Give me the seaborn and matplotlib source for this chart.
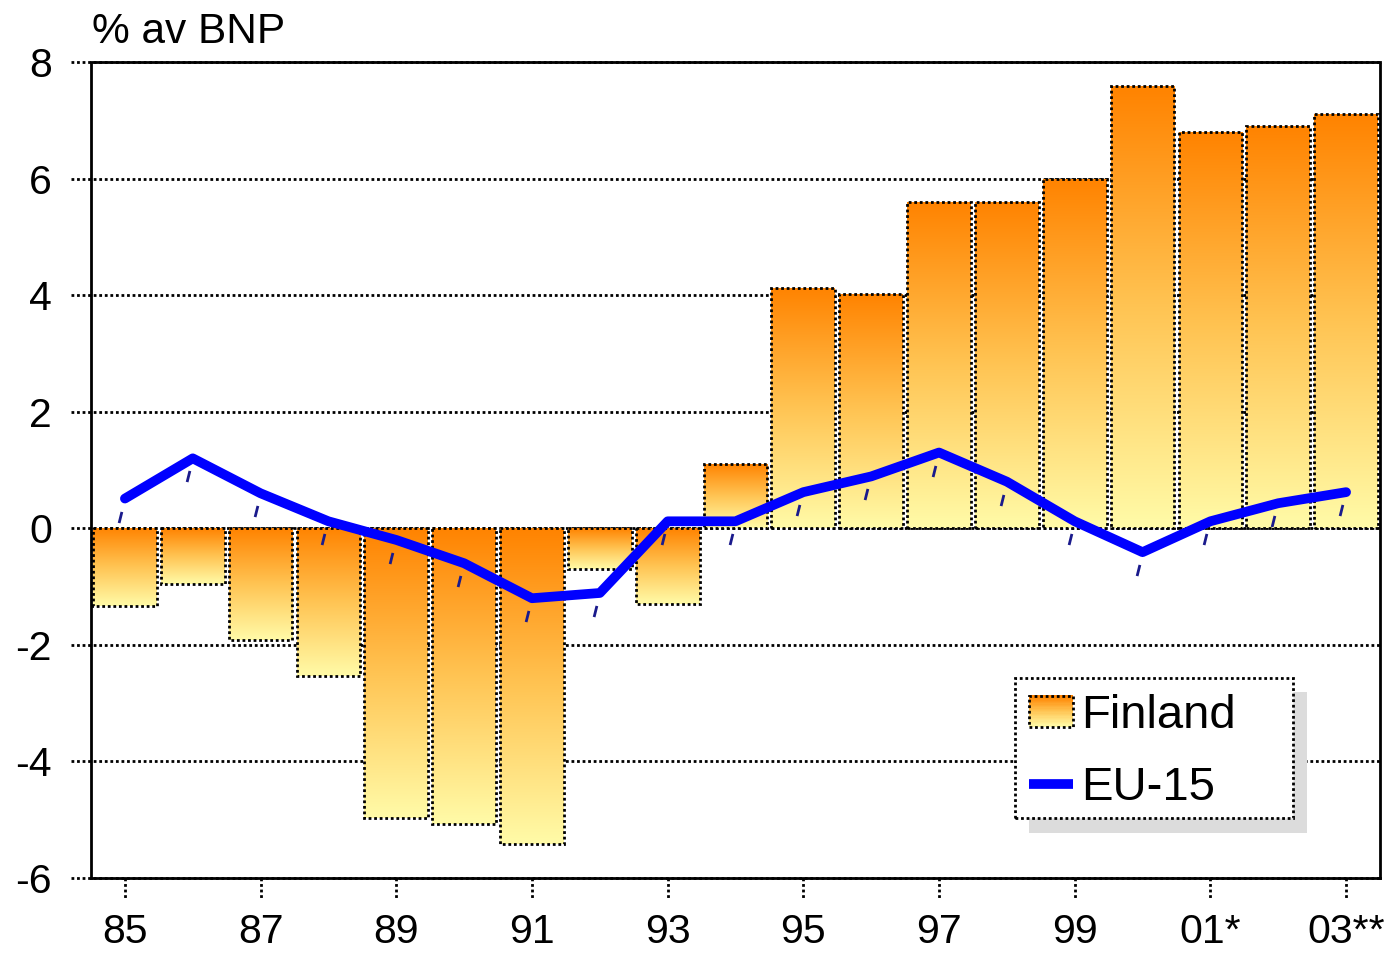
import numpy as np
import pandas as pd
import matplotlib
matplotlib.use("Agg")
import matplotlib.pyplot as plt
import seaborn as sns
from matplotlib.colors import LinearSegmentedColormap
from matplotlib.patches import Rectangle, Patch
from matplotlib.lines import Line2D
from matplotlib.path import Path
from matplotlib.transforms import ScaledTranslation
from matplotlib.legend_handler import HandlerBase

# ---------------- data ----------------
years = ['85', '86', '87', '88', '89', '90', '91', '92', '93', '94',
         '95', '96', '97', '98', '99', '00', '01', '02', '03']
finland = [-1.34, -0.96, -1.92, -2.54, -4.97, -5.08, -5.42, -0.69, -1.30, 1.10,
           4.12, 4.02, 5.60, 5.60, 6.00, 7.58, 6.80, 6.90, 7.10]
eu15 = [0.51, 1.20, 0.60, 0.12, -0.20, -0.60, -1.20, -1.11, 0.12, 0.12,
        0.62, 0.89, 1.30, 0.80, 0.12, -0.41, 0.12, 0.43, 0.62]
xtick_labels = ['85', '87', '89', '91', '93', '95', '97', '99', '01*', '03**']
y_ticks = [-6, -4, -2, 0, 2, 4, 6, 8]
series_names = ['Finland', 'EU-15']
y_title = '% av BNP'

# ---------------- style ----------------
sns.set_style('white')
plt.rcParams['font.family'] = ['Liberation Sans', 'DejaVu Sans']
plt.rcParams['text.color'] = 'black'
plt.rcParams['xtick.color'] = 'black'
plt.rcParams['ytick.color'] = 'black'
plt.rcParams['axes.labelcolor'] = 'black'

W, H = 1389, 956
fig = plt.figure(figsize=(W / 100, H / 100), dpi=100)
ax = fig.add_axes([91 / W, 1 - 878 / H, (1380 - 91) / W, (878 - 62) / H])

DOT = (0, (1, 1))
LW = 2.0
cmap = LinearSegmentedColormap.from_list('fin', ['#FF8300', '#FFC453', '#FFFBA8'])

df = pd.DataFrame({'year': years, 'Finland': finland, 'EU15': eu15})

sns.barplot(data=df, x='year', y='Finland', ax=ax, width=0.94, color='#FFB040',
            saturation=1, edgecolor='black', linewidth=LW, zorder=2)

grad = np.linspace(0, 1, 256).reshape(-1, 1)
for p in list(ax.patches):
    x0, y0 = p.get_x(), p.get_y()
    w, h = p.get_width(), p.get_height()
    ylo, yhi = min(y0, y0 + h), max(y0, y0 + h)
    im = ax.imshow(grad, cmap=cmap, extent=[x0, x0 + w, ylo, yhi], origin='upper',
                   aspect='auto', zorder=1.9, interpolation='bilinear')
    im.set_clip_path(p)
    p.set_facecolor('none')
    p.set_linestyle(DOT)

xpos = np.arange(len(years))
sns.lineplot(x=xpos, y=df['EU15'].values, ax=ax, color='#0000FF', linewidth=7,
             solid_capstyle='round', solid_joinstyle='round', zorder=4, legend=False)

# small slanted marks below each EU-15 point
slash = Path([(-0.25, -1.0), (0.25, 1.0)], [Path.MOVETO, Path.LINETO])
off = ax.transData + ScaledTranslation(-5 / 100, -18 / 100, fig.dpi_scale_trans)
ax.plot(xpos, df['EU15'].values, ls='none', marker=slash, ms=8, mew=2,
        color='#1A1A8C', transform=off, zorder=3.5)

ax.set_xlim(-0.5, len(years) - 0.5)
ax.set_ylim(-6, 8)

ax.set_yticks(y_ticks)
ax.set_yticklabels([str(v) for v in y_ticks])
ax.set_xticks(np.arange(0, len(years), 2))
ax.set_xticklabels(xtick_labels)
ax.tick_params(axis='y', length=0, pad=28, labelsize=29.5, labelcolor='black')
ax.tick_params(axis='x', length=0, pad=25, labelsize=29.5, labelcolor='black')
ax.set_xlabel('')
ax.set_ylabel('')

# dotted gridlines extending left as ticks
for yv in y_ticks:
    ax.plot([-20 / 1289, 1], [yv, yv], transform=ax.get_yaxis_transform(),
            clip_on=False, color='black', lw=LW, ls=DOT, zorder=1)
for xv in np.arange(0, len(years), 2):
    ax.plot([xv, xv], [0, -20 / 816], transform=ax.get_xaxis_transform(),
            clip_on=False, color='black', lw=LW, ls=DOT, zorder=1)

for s in ax.spines.values():
    s.set_visible(True)
    s.set_linestyle(DOT)
    s.set_linewidth(LW)
    s.set_color('black')

fig.text(92 / W, 1 - 43 / H, y_title, ha='left', va='baseline', fontsize=30.5,
         color='black')


# ---------------- legend ----------------
class GradientHandler(HandlerBase):
    def create_artists(self, legend, orig_handle, xdescent, ydescent, width,
                       height, fontsize, trans):
        n = 24
        arts = []
        for i in range(n):
            yb = -ydescent + height * (1 - (i + 1) / n)
            arts.append(Rectangle((-xdescent, yb), width, height / n + 0.3,
                                  facecolor=cmap(i / (n - 1)), edgecolor='none',
                                  transform=trans))
        arts.append(Rectangle((-xdescent, -ydescent), width, height, fill=False,
                              edgecolor='black', lw=LW, ls=DOT, transform=trans))
        return arts


fig.add_artist(Rectangle((1029 / W, 1 - 833 / H), 278 / W, 141 / H,
                         transform=fig.transFigure, facecolor='#DCDCDC',
                         edgecolor='none', zorder=3))
fig.add_artist(Rectangle((1015 / W, 1 - 818 / H), 278 / W, 140 / H,
                         transform=fig.transFigure, facecolor='white',
                         edgecolor='black', lw=LW, ls=DOT, zorder=4))

h_fin = Patch(facecolor='#FFB040')
h_eu = Line2D([], [], color='#0000FF', lw=7, solid_capstyle='butt')
leg = fig.legend([h_fin, h_eu], series_names, loc='upper left',
                 bbox_to_anchor=(1015 / W, 1 - 680 / H), bbox_transform=fig.transFigure,
                 borderaxespad=0, borderpad=0.3, frameon=False, fontsize=34,
                 handlelength=0.93, handleheight=0.65, handletextpad=0.17,
                 labelspacing=0.6, handler_map={Patch: GradientHandler()})
for t in leg.get_texts():
    t.set_color('black')

fig.savefig('out.png', dpi=100)
